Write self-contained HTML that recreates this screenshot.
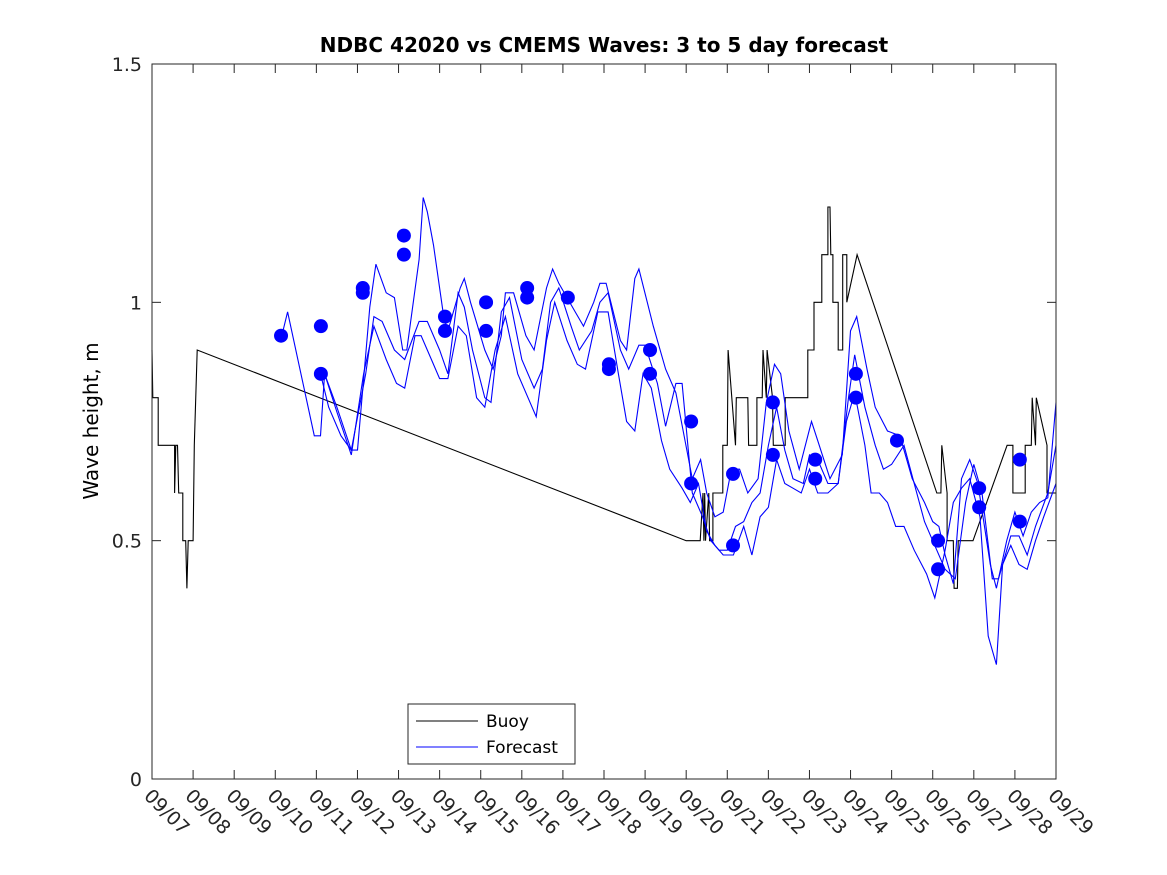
<!DOCTYPE html>
<html><head><meta charset="utf-8"><style>
html,body{margin:0;padding:0;background:#fff;}
svg{display:block;font-family:"DejaVu Sans","Liberation Sans",sans-serif;}
</style></head><body>
<svg id="chart" width="1167" height="875" viewBox="0 0 1167 875">
<rect x="0" y="0" width="1167" height="875" fill="#fff"/>
<text x="604" y="52" text-anchor="middle" font-size="20" font-weight="bold">NDBC 42020 vs CMEMS Waves: 3 to 5 day forecast</text>
<text transform="translate(98,421) rotate(-90)" text-anchor="middle" font-size="20">Wave height, m</text>
<g id="grid"></g>
<g id="series"></g>
<rect x="152" y="64" width="904" height="715" fill="none" stroke="#262626" stroke-width="1"/>
<g>
<rect x="408" y="704" width="167" height="60" fill="#fff" stroke="#262626"/>
<line x1="416" y1="721" x2="478" y2="721" stroke="#000"/>
<text x="486" y="727" font-size="17">Buoy</text>
<line x1="416" y1="747" x2="478" y2="747" stroke="#0000ff"/>
<text x="486" y="753" font-size="17">Forecast</text>
</g>
</svg>
<script>
const xTickLabels = ["09/07","09/08","09/09","09/10","09/11","09/12","09/13","09/14","09/15","09/16","09/17","09/18","09/19","09/20","09/21","09/22","09/23","09/24","09/25","09/26","09/27","09/28","09/29"];
const yTickValues = [0,0.5,1,1.5];
const yTickLabels = ["0","0.5","1","1.5"];
const buoyDays = [0,0.02,0.15,0.15,0.55,0.55,0.58,0.62,0.65,0.75,0.75,0.82,0.85,0.88,1.0,1.03,1.1,13.0,13.34,13.41,13.43,13.45,13.47,13.55,13.57,13.65,13.65,13.89,13.89,14.0,14.02,14.2,14.22,14.5,14.52,14.72,14.72,14.85,14.87,14.95,14.97,15.1,15.12,15.41,15.41,15.96,15.96,16.11,16.11,16.30,16.30,16.45,16.45,16.5,16.52,16.57,16.57,16.70,16.70,16.81,16.81,16.91,16.91,17.16,19.10,19.10,19.2,19.22,19.35,19.35,19.5,19.52,19.6,19.62,19.98,20.81,20.95,20.95,21.25,21.25,21.4,21.42,21.5,21.52,21.78,21.78,22.0];
const buoyValues = [0.9,0.8,0.8,0.7,0.7,0.6,0.7,0.7,0.6,0.6,0.5,0.5,0.4,0.5,0.5,0.7,0.9,0.5,0.5,0.6,0.5,0.6,0.5,0.6,0.5,0.5,0.6,0.6,0.7,0.7,0.9,0.7,0.8,0.8,0.7,0.7,0.8,0.8,0.9,0.8,0.9,0.8,0.7,0.7,0.8,0.8,0.9,0.9,1.0,1.0,1.1,1.1,1.2,1.2,1.1,1.1,1.0,1.0,0.9,0.9,1.1,1.1,1.0,1.1,0.6,0.6,0.6,0.7,0.6,0.5,0.5,0.4,0.4,0.5,0.5,0.7,0.7,0.6,0.6,0.7,0.7,0.8,0.7,0.8,0.7,0.6,0.6];
const fc1Days = [3.16,3.3,3.95,4.1,4.2,4.5,4.85,5.0,5.3,5.45,5.7,5.9,6.1,6.2,6.5,6.6,6.7,6.85,7.1,7.2,7.5,7.6,7.75,8.1,8.3,8.5,8.6,8.8,9.1,9.3,9.6,9.75,9.9,10.3,10.5,10.75,10.9,11.05,11.4,11.55,11.75,11.85,12.2,12.5,12.75,12.95,13.15,13.35,13.5,13.7,13.9,14.1,14.3,14.5,14.75,14.95,15.15,15.3,15.5,15.75,16.05,16.2,16.5,16.8,17.0,17.15,17.4,17.6,17.9,18.2,18.5,18.8,19.0,19.15,19.3,19.5,19.7,19.9,20.1,20.4,20.55,20.8,21.0,21.2,21.4,21.6,21.8,22];
const fc1Values = [0.93,0.98,0.72,0.72,0.85,0.78,0.69,0.69,0.99,1.08,1.02,1.01,0.9,0.9,1.09,1.22,1.19,1.12,0.97,0.94,1.03,1.05,1.0,0.9,0.86,0.93,1.02,1.02,0.93,0.9,1.03,1.07,1.04,0.98,0.95,1.0,1.04,1.04,0.92,0.9,1.05,1.07,0.95,0.86,0.81,0.72,0.63,0.67,0.6,0.55,0.56,0.65,0.65,0.6,0.63,0.79,0.87,0.85,0.73,0.65,0.75,0.71,0.63,0.68,0.94,0.97,0.86,0.78,0.73,0.72,0.63,0.58,0.54,0.53,0.47,0.41,0.63,0.67,0.62,0.45,0.4,0.5,0.56,0.51,0.56,0.58,0.59,0.79];
const fc2Days = [4.1,4.3,4.6,4.85,5.2,5.4,5.6,5.9,6.15,6.5,6.7,7.0,7.2,7.45,7.6,7.8,8.1,8.25,8.5,8.7,9.0,9.3,9.5,9.7,9.9,10.2,10.4,10.7,10.9,11.1,11.4,11.6,11.85,12.0,12.3,12.5,12.75,12.9,13.15,13.4,13.6,13.8,14.0,14.2,14.4,14.6,14.8,15.0,15.2,15.4,15.6,15.85,16.0,16.25,16.45,16.7,16.95,17.1,17.35,17.6,17.8,18.0,18.3,18.55,18.8,19.0,19.3,19.55,19.8,20.0,20.2,20.45,20.6,20.9,21.1,21.3,21.5,21.8,22];
const fc2Values = [0.85,0.78,0.72,0.69,0.85,0.97,0.96,0.9,0.88,0.96,0.96,0.9,0.85,1.02,0.99,0.9,0.8,0.79,0.98,1.01,0.88,0.82,0.86,1.0,1.03,0.95,0.9,0.94,1.0,1.02,0.9,0.86,0.91,0.91,0.83,0.74,0.83,0.83,0.6,0.55,0.5,0.48,0.48,0.53,0.54,0.58,0.6,0.7,0.78,0.69,0.63,0.62,0.68,0.66,0.62,0.62,0.8,0.89,0.78,0.7,0.65,0.66,0.7,0.62,0.54,0.5,0.44,0.42,0.58,0.66,0.6,0.42,0.42,0.51,0.51,0.47,0.53,0.6,0.7];
const fc3Days = [4.2,4.5,4.85,5.15,5.4,5.7,5.95,6.15,6.4,6.55,6.8,7.0,7.2,7.45,7.65,7.9,8.1,8.35,8.6,8.9,9.15,9.35,9.6,9.8,10.1,10.35,10.55,10.85,11.1,11.35,11.55,11.75,11.95,12.15,12.4,12.6,12.9,13.1,13.3,13.5,13.7,13.9,14.15,14.4,14.6,14.8,15.0,15.2,15.4,15.6,15.8,16.0,16.2,16.45,16.7,16.9,17.1,17.35,17.5,17.7,17.9,18.1,18.3,18.55,18.85,19.05,19.3,19.5,19.7,19.9,20.15,20.35,20.55,20.7,20.9,21.1,21.3,21.5,21.7,22];
const fc3Values = [0.85,0.77,0.68,0.85,0.95,0.88,0.83,0.82,0.93,0.93,0.88,0.84,0.84,0.95,0.93,0.8,0.78,0.9,0.97,0.85,0.8,0.76,0.92,1.0,0.92,0.87,0.86,0.98,0.98,0.85,0.75,0.73,0.85,0.82,0.71,0.65,0.61,0.58,0.62,0.52,0.49,0.47,0.47,0.53,0.47,0.55,0.57,0.67,0.62,0.61,0.6,0.65,0.6,0.6,0.62,0.75,0.81,0.7,0.6,0.6,0.58,0.53,0.53,0.48,0.43,0.38,0.48,0.58,0.61,0.63,0.55,0.3,0.24,0.45,0.49,0.45,0.44,0.5,0.55,0.62];
const dotDays = [3.14,4.11,4.11,5.13,5.13,6.13,6.13,7.13,7.13,8.13,8.13,9.13,9.13,10.12,11.12,11.12,12.12,12.12,13.12,13.12,14.14,14.14,15.11,15.11,16.14,16.14,17.13,17.13,18.13,19.13,19.13,20.13,20.13,21.12,21.12];
const dotValues = [0.93,0.95,0.85,1.03,1.02,1.14,1.10,0.97,0.94,1.0,0.94,1.03,1.01,1.01,0.87,0.86,0.90,0.85,0.75,0.62,0.64,0.49,0.79,0.68,0.67,0.63,0.85,0.80,0.71,0.50,0.44,0.61,0.57,0.67,0.54];

const X0=152, X1=1056, Y0=779, Y1=64, DMAX=22, VMAX=1.5;
function xs(d){return X0+(X1-X0)*d/DMAX;}
function ys(v){return Y0-(Y0-Y1)*v/VMAX;}
const NS="http://www.w3.org/2000/svg";
const grid=document.getElementById('grid');
const series=document.getElementById('series');
function mk(tag,attrs,parent){const e=document.createElementNS(NS,tag);for(const k in attrs)e.setAttribute(k,attrs[k]);parent.appendChild(e);return e;}

xTickLabels.forEach((lab,i)=>{
  const x=xs(i);
  const t1=mk('line',{x1:x,y1:Y0,x2:x,y2:Y0-9,stroke:'#262626'},grid);
  
  
  const t2=mk('line',{x1:x,y1:Y1,x2:x,y2:Y1+9,stroke:'#262626'},grid);
  
  
  const tx=mk('text',{x:0,y:0,'font-size':19,fill:'#262626',transform:`translate(${x-9},${Y0+18}) rotate(45)`},grid);
  tx.textContent=lab;
  
  
});
yTickValues.forEach((v,i)=>{
  const y=ys(v);
  const t1=mk('line',{x1:X0,y1:y,x2:X0+9,y2:y,stroke:'#262626'},grid);
  
  
  const t2=mk('line',{x1:X1,y1:y,x2:X1-9,y2:y,stroke:'#262626'},grid);
  
  
  const tx=mk('text',{x:X0-10,y:y+7,'font-size':19,'text-anchor':'end',fill:'#262626'},grid);
  tx.textContent=yTickLabels[i];
  
  
});
function pts(ds,vs){return ds.map((d,i)=>xs(d).toFixed(1)+','+ys(vs[i]).toFixed(1)).join(' ');}
const b=mk('polyline',{points:pts(buoyDays,buoyValues),fill:'none',stroke:'#000','stroke-width':1.1},series);


[[fc1Days,fc1Values,'forecast-line-1'],[fc2Days,fc2Values,'forecast-line-2'],[fc3Days,fc3Values,'forecast-line-3']].forEach(s=>{
  const p=mk('polyline',{points:pts(s[0],s[1]),fill:'none',stroke:'#0000ff','stroke-width':1.1},series);
  
  
});
dotDays.forEach((d,i)=>{
  const c=mk('circle',{cx:xs(d),cy:ys(dotValues[i]),r:7,fill:'#0000ff'},series);
  
  
});
</script>
</body></html>
